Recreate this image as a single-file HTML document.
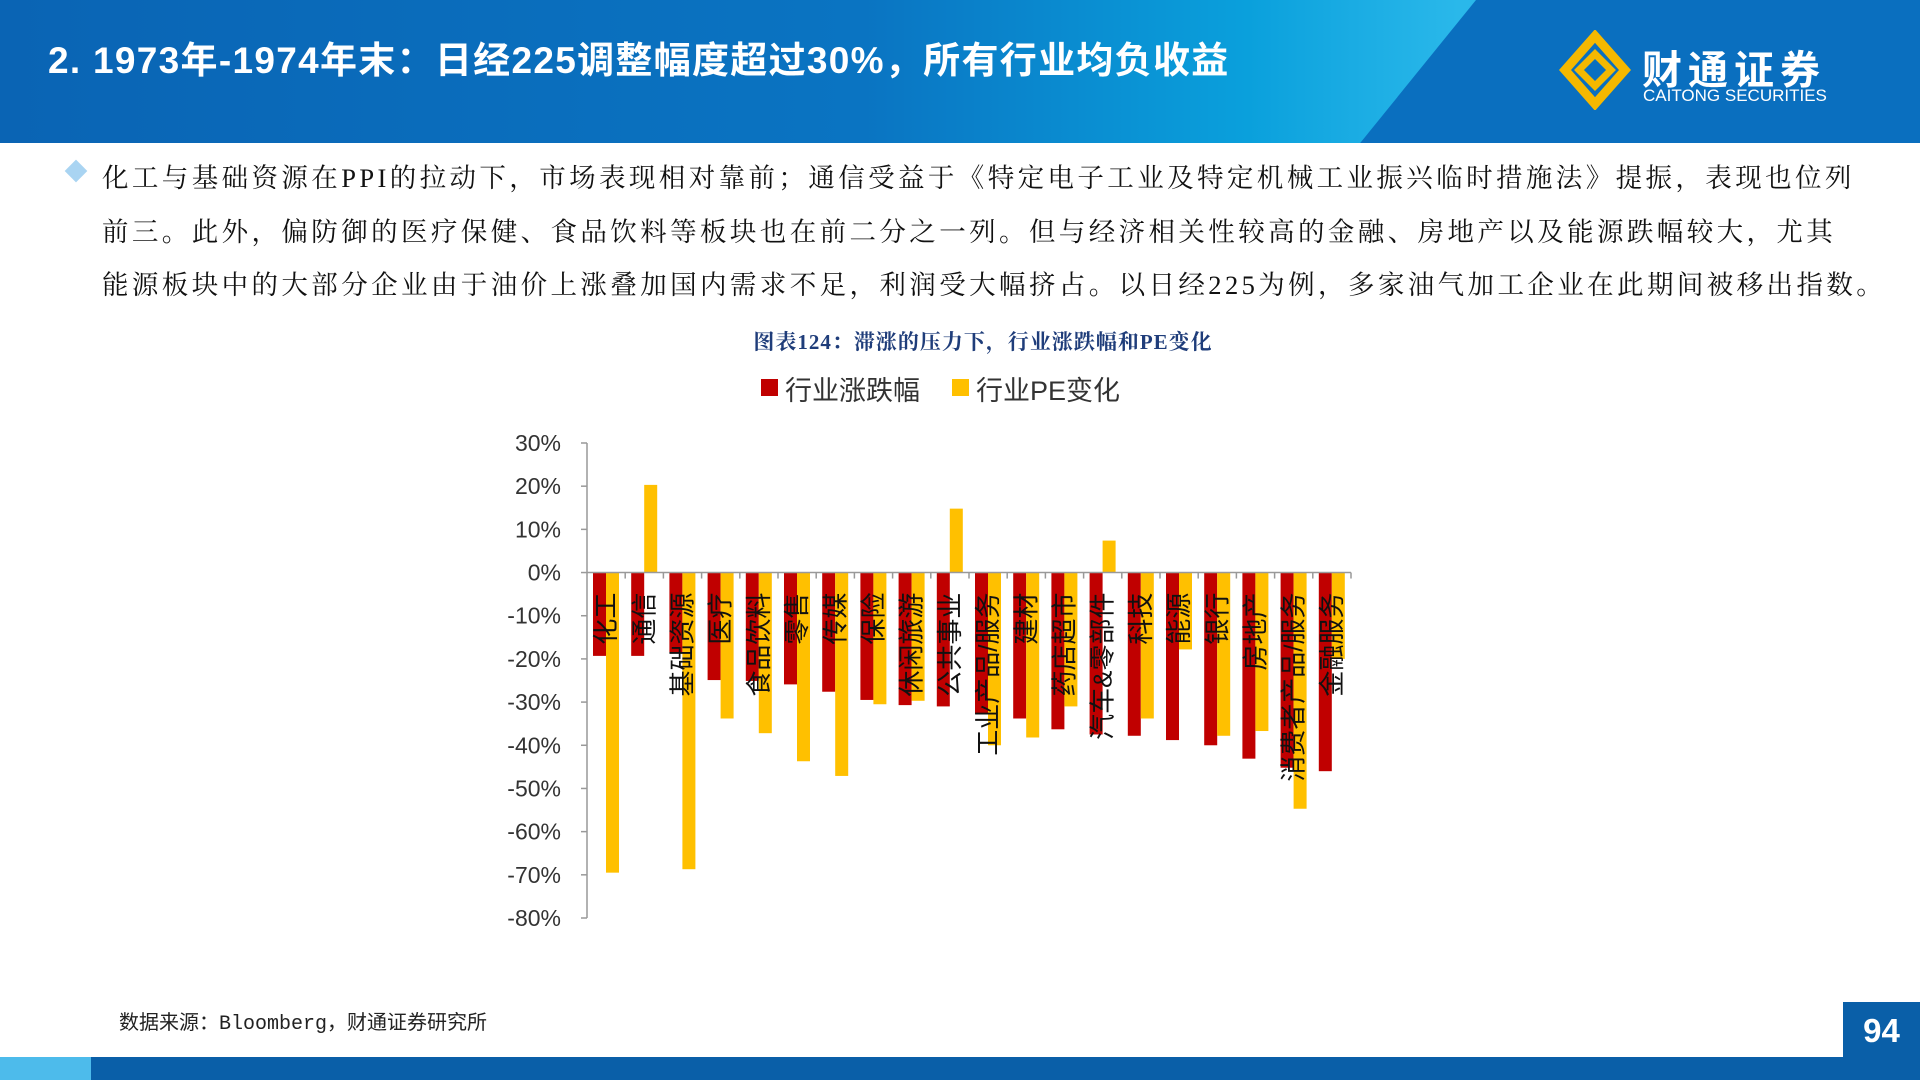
<!DOCTYPE html>
<html><head><meta charset="utf-8"><style>
body{margin:0;width:1920px;height:1080px;overflow:hidden;background:#fff;font-family:"Liberation Sans","Noto Sans CJK SC",sans-serif;position:relative}
#hdr{position:absolute;left:0;top:0;width:1920px;height:143px;background:linear-gradient(90deg,#0a64b4 0%,#0a74c2 45%,#0aa0dc 65%,#2ab8ea 76%);overflow:hidden}
#diag{position:absolute;left:1476px;top:0;width:700px;height:143px;background:#0a6fbf;transform:skewX(-39deg);transform-origin:0 0}
#title{position:absolute;left:48px;top:30px;color:#fff;font-size:37px;font-weight:bold;letter-spacing:1.3px}
.para{position:absolute;left:102px;font-family:"Liberation Serif","Noto Serif CJK SC",serif;font-size:26.5px;color:#111;white-space:nowrap;letter-spacing:3.4px}
</style></head><body>
<div id="hdr"><div id="diag"></div>
<div id="title">2. 1973年-1974年末：日经225调整幅度超过30%，所有行业均负收益</div>
<svg style="position:absolute;left:1555px;top:30px" width="80" height="80"><g fill="none" stroke="#f5b800" stroke-width="9"><path d="M40 6 L70 40 L40 74 L10 40 Z"/><path d="M40 24 L56 40 L40 56 L24 40 Z" stroke-width="7"/></g></svg>
<div style="position:absolute;left:1642px;top:38px;color:#fff;font-size:40px;font-weight:bold;letter-spacing:6px">财通证券</div>
<div style="position:absolute;left:1643px;top:86px;color:#fff;font-size:17px">CAITONG SECURITIES</div>
</div>
<div style="position:absolute;left:68px;top:163px;width:16px;height:16px;background:#a9d4f2;transform:rotate(45deg)"></div>
<div class="para" style="top:156px">化工与基础资源在PPI的拉动下，市场表现相对靠前；通信受益于《特定电子工业及特定机械工业振兴临时措施法》提振，表现也位列</div>
<div class="para" style="top:210px">前三。此外，偏防御的医疗保健、食品饮料等板块也在前二分之一列。但与经济相关性较高的金融、房地产以及能源跌幅较大，尤其</div>
<div class="para" style="top:263px">能源板块中的大部分企业由于油价上涨叠加国内需求不足，利润受大幅挤占。以日经225为例，多家油气加工企业在此期间被移出指数。</div>
<div style="position:absolute;left:0;width:1966px;text-align:center;top:326px;font-size:21px;font-weight:bold;color:#1f3d7a;font-family:'Liberation Serif','Noto Serif CJK SC',serif;letter-spacing:1px">图表124：滞涨的压力下，行业涨跌幅和PE变化</div>
<div style="position:absolute;left:761px;top:379px;width:17px;height:17px;background:#c00000"></div>
<div style="position:absolute;left:785px;top:369px;font-size:27px;color:#333">行业涨跌幅</div>
<div style="position:absolute;left:952px;top:379px;width:17px;height:17px;background:#ffc000"></div>
<div style="position:absolute;left:976px;top:369px;font-size:27px;color:#333">行业PE变化</div>
<svg id="chart" style="position:absolute;left:0;top:0" width="1920" height="1080"></svg>
<div style="position:absolute;left:119px;top:1006px;font-size:20px;color:#222;font-family:'Liberation Mono','Noto Sans CJK SC',monospace">数据来源：Bloomberg，财通证券研究所</div>
<div style="position:absolute;left:1843px;top:1002px;width:77px;height:57px;background:#0a5fa8;color:#fff;font-size:33px;font-weight:bold;text-align:center;line-height:57px">94</div>
<div style="position:absolute;left:0;top:1057px;width:91px;height:23px;background:#4dbbeb"></div>
<div style="position:absolute;left:91px;top:1057px;width:1829px;height:23px;background:#0a5fa8"></div>
<script>
const categories=["化工","通信","基础资源","医疗","食品饮料","零售","传媒","保险","休闲旅游","公共事业","工业产品/服务","建材","药店超市","汽车&零部件","科技","能源","银行","房地产","消费者产品/服务","金融服务"];
const changeValues=[-19.3,-19.3,-18.5,-24.9,-25.1,-25.9,-27.6,-29.5,-30.7,-31.0,-32.8,-33.8,-36.3,-37.5,-37.8,-38.8,-40.0,-43.1,-45.2,-46.0];
const peValues=[-69.5,20.3,-68.7,-33.8,-37.2,-43.7,-47.1,-30.5,-29.7,14.8,-40.0,-38.2,-31.0,7.4,-33.8,-17.8,-37.8,-36.7,-54.7,-20.0];
const yTicks=[30,20,10,0,-10,-20,-30,-40,-50,-60,-70,-80];
const NS="http://www.w3.org/2000/svg";
const svg=document.getElementById('chart');
const x0=587,x1=1351,yTop=443,yBot=918,vMax=30,vMin=-80;
const y=v=>yTop+(vMax-v)/(vMax-vMin)*(yBot-yTop);
const band=(x1-x0)/categories.length;
function mk(t,a){const e=document.createElementNS(NS,t);for(const k in a)e.setAttribute(k,a[k]);svg.appendChild(e);return e;}
let ax=mk('line',{x1:x0,y1:yTop,x2:x0,y2:yBot,stroke:'#999','stroke-width':1.5});

yTicks.forEach(t=>{
 const tk=mk('line',{x1:x0-6,y1:y(t),x2:x0,y2:y(t),stroke:'#999','stroke-width':1.5});
 
 const tx=mk('text',{x:x0-26,y:y(t)+8,'text-anchor':'end','font-size':23,fill:'#333','font-family':'Liberation Sans, sans-serif'});
 tx.textContent=t+'%';
 
});
categories.forEach((c,i)=>{
 const bx=x0+i*band;
 const r=mk('rect',{x:bx+6,y:Math.min(y(0),y(changeValues[i])),width:13,height:Math.abs(y(changeValues[i])-y(0)),fill:'#c00000'});
 
 const p=mk('rect',{x:bx+19,y:Math.min(y(0),y(peValues[i])),width:13,height:Math.abs(y(peValues[i])-y(0)),fill:'#ffc000'});
 
 const ct=mk('line',{x1:bx+band,y1:y(0),x2:bx+band,y2:y(0)+6,stroke:'#999','stroke-width':1.5});
 
 const cx=bx+band/2+9, ty=y(0)+20;
 const lb=mk('text',{x:cx,y:ty,'text-anchor':'end','font-size':26,fill:'#111','font-family':'Liberation Sans, Noto Sans CJK SC, sans-serif',transform:`rotate(-90 ${cx} ${ty})`});
 lb.textContent=c;
 
});
let xa=mk('line',{x1:x0,y1:y(0),x2:x1,y2:y(0),stroke:'#999','stroke-width':1.5});

</script>
</body></html>
